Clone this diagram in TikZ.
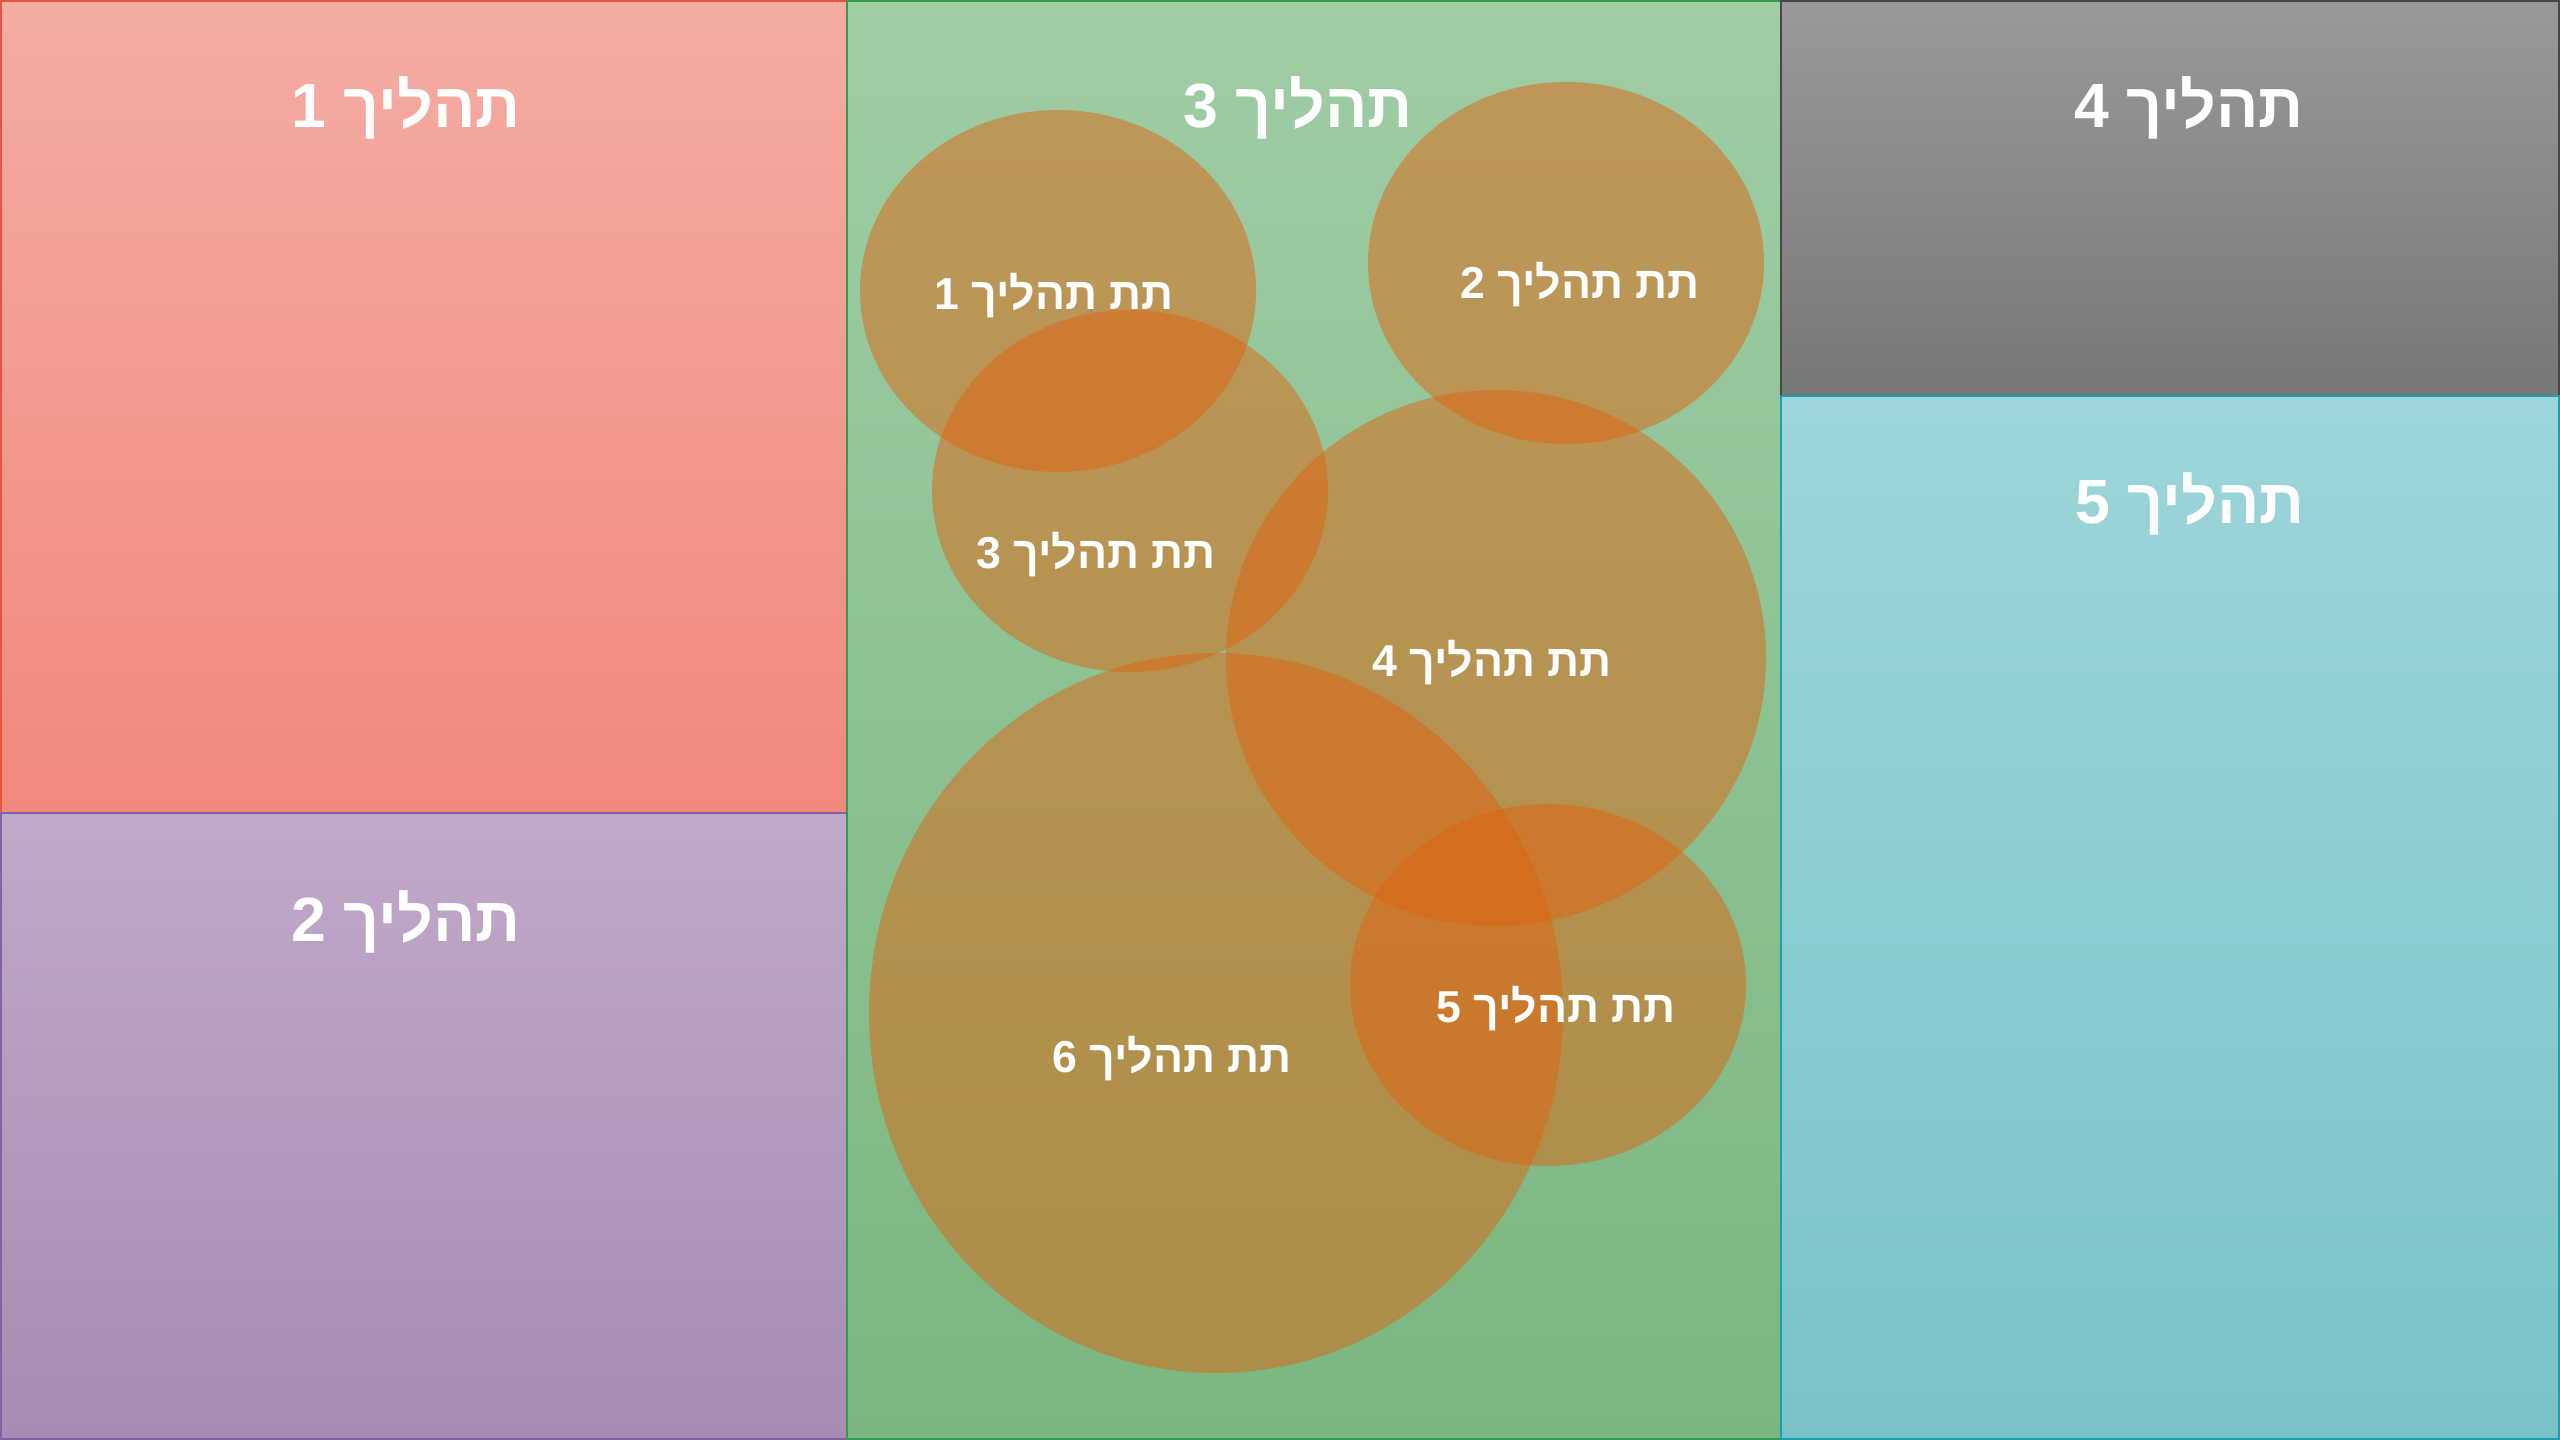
\documentclass[tikz,border=0pt]{standalone}
\usepackage{fontspec}
\newfontfamily\heb[Script=Hebrew]{Liberation Sans}
\TeXXeTstate=1
\definecolor{redT}{RGB}{244,172,163}
\definecolor{redB}{RGB}{241,136,123}
\definecolor{redL}{RGB}{230,85,65}
\definecolor{purT}{RGB}{192,169,201}
\definecolor{purB}{RGB}{167,139,178}
\definecolor{purL}{RGB}{128,100,162}
\definecolor{grnT}{RGB}{159,205,166}
\definecolor{grnB}{RGB}{122,183,128}
\definecolor{grnL}{RGB}{50,155,80}
\definecolor{gryT}{RGB}{153,153,153}
\definecolor{gryB}{RGB}{119,119,119}
\definecolor{gryL}{RGB}{70,70,70}
\definecolor{tealT}{RGB}{157,213,218}
\definecolor{tealB}{RGB}{121,195,200}
\definecolor{tealL}{RGB}{25,160,170}
\definecolor{subC}{RGB}{223,100,14}
\tikzset{
  panel/.style={line width=0.6pt},
  subell/.style={fill=subC, fill opacity=0.5},
  ttl/.style={text=white, anchor=base, inner sep=0pt, font=\heb\bfseries\fontsize{17.8}{22}\selectfont},
  subttl/.style={text=white, anchor=base, inner sep=0pt, font=\heb\bfseries\fontsize{12.7}{15}\selectfont}
}
\begin{document}
\begin{tikzpicture}[x=0.01cm, y=-0.01cm]
\useasboundingbox (0,0) rectangle (2560,1440);
% panels
\shade[top color=redT, bottom color=redB] (0,0) rectangle (847,813);
\shade[top color=purT, bottom color=purB] (0,813) rectangle (847,1440);
\shade[top color=grnT, bottom color=grnB] (847,0) rectangle (1781,1440);
\shade[top color=gryT, bottom color=gryB] (1781,0) rectangle (2560,396);
\shade[top color=tealT, bottom color=tealB] (1781,396) rectangle (2560,1440);
\draw[panel, draw=redL] (0.5,0.5) rectangle (847,813);
\draw[panel, draw=purL] (0.5,813) rectangle (847,1439.5);
\draw[panel, draw=grnL] (847,0.5) rectangle (1781,1439.5);
\draw[panel, draw=gryL] (1781,0.5) rectangle (2559.5,396);
\draw[panel, draw=tealL] (1781,396) rectangle (2559.5,1439.5);
% sub-process ellipses
\fill[subell] (1058,291) ellipse [x radius=198, y radius=181];
\fill[subell] (1566,263) ellipse [x radius=198, y radius=181];
\fill[subell] (1130,491) ellipse [x radius=198, y radius=181];
\fill[subell] (1496,658) ellipse [x radius=270, y radius=268];
\fill[subell] (1548,985) ellipse [x radius=198, y radius=181];
\fill[subell] (1216,1013) ellipse [x radius=347, y radius=360];
% titles
\node[ttl] (t1) at (406,128) {\beginR תהליך 1\endR};
\node[ttl] (t2) at (406,942) {\beginR תהליך 2\endR};
\node[ttl] (t3) at (1298,128) {\beginR תהליך 3\endR};
\node[ttl] (t4) at (2189,128) {\beginR תהליך 4\endR};
\node[ttl] (t5) at (2190,524) {\beginR תהליך 5\endR};
% sub titles
\node[subttl] (s1) at (1054,310) {\beginR תת תהליך 1\endR};
\node[subttl] (s2) at (1580,299) {\beginR תת תהליך 2\endR};
\node[subttl] (s3) at (1096,569) {\beginR תת תהליך 3\endR};
\node[subttl] (s4) at (1492,677) {\beginR תת תהליך 4\endR};
\node[subttl] (s5) at (1556,1022) {\beginR תת תהליך 5\endR};
\node[subttl] (s6) at (1172,1072) {\beginR תת תהליך 6\endR};
\end{tikzpicture}
\end{document}
